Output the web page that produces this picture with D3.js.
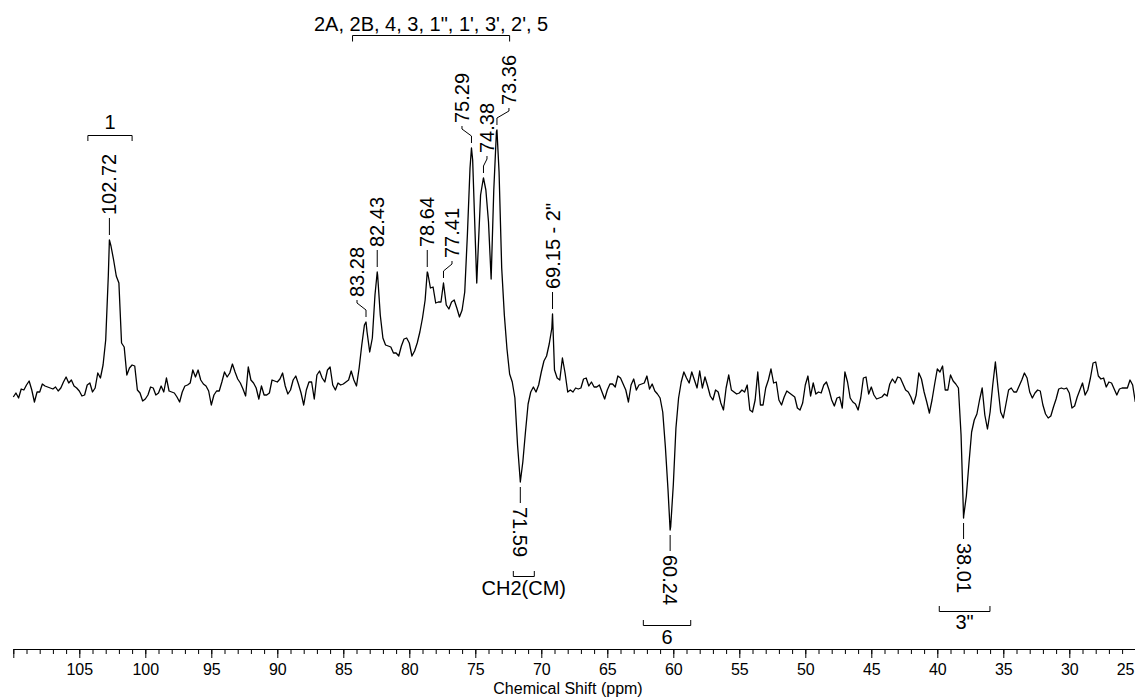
<!DOCTYPE html>
<html>
<head>
<meta charset="utf-8">
<script src="https://cdn.jsdelivr.net/npm/d3@7"></script>
<style>
  html, body { margin: 0; padding: 0; background: #fff; }
  svg { display: block; font-family: "Liberation Sans", Arial, Helvetica, sans-serif; }
</style>
</head>
<body>
<svg id="chart" width="1135" height="697"></svg>
<script>
// 13C DEPT-135 trace, sampled every 0.2 ppm from 110.0 ppm down to 25.0 ppm (arbitrary units)
const gridStart = 110.0;
const gridStep = 0.2;
const intensity = [
  -14, -10, -15, -6, -7, -2, 2, -7, -19, -9,
  -9, -1, -3, -4, -5, -6, -4, -8, -5, 1,
  6, 0, 3, -3, -5, -8, -13, -12, -2, 0,
  -9, -5, 10, 5, 18, 43, 108, 137, 123, 107,
  100, 40, 36, 8, 15, 18, 17, -7, -10, -18,
  -16, -12, -4, -5, -12, -10, -3, -9, 5, -8,
  -9, -10, -14, -19, -9, -3, -2, 0, 13, 6,
  13, 3, -1, -3, -8, -22, -12, -8, -8, 1,
  11, 6, 10, 19, 11, 4, 0, -6, -13, 16,
  3, 0, -5, -16, -3, -12, -12, -10, 3, 2,
  1, 4, 10, -3, -11, -7, 3, 7, -1, -10,
  -22, -7, 1, 1, -16, 8, 12, 5, 1, 13,
  16, -2, -7, 0, -2, -1, 1, 3, 12, 3,
  -3, 15, 38, 58, 51, 31, 45, 88, 108, 68,
  45, 38, 37, 36, 30, 30, 27, 37, 44, 45,
  40, 27, 32, 40, 51, 65, 83, 110, 95, 96,
  80, 81, 81, 99, 78, 74, 81, 83, 75, 66,
  73, 91, 148, 215, 223, 143, 128, 188, 204, 193,
  161, 104, 193, 251, 211, 115, 68, 34, 9, 1,
  -15, -62, -97, -79, -49, -21, -9, -4, -9, -2,
  11, 22, 27, 39, 55, 13, 5, 3, 25, 10,
  -9, -7, -9, -5, -6, -5, 4, 5, -3, 1,
  -4, -4, -2, -9, -16, -7, -1, -1, -4, 7,
  5, -1, -7, -19, -2, 4, -7, -2, -1, 0,
  7, -6, -1, -8, -11, -15, -29, -64, -107, -144,
  -102, -45, -15, 1, 11, 5, 0, 11, 3, -5,
  12, -5, 6, -3, -13, -17, -7, -9, -20, -27,
  -5, 8, -7, -9, -11, -10, -7, -9, -2, -27,
  -29, -17, 11, -22, -22, -5, 3, 14, 0, 1,
  -17, -22, -14, -8, -10, -12, -14, -25, -27, -20,
  -2, 7, -13, 0, -11, -9, -10, -2, 1, -7,
  -17, -23, -15, -14, -25, 11, 1, -15, -19, -21,
  -27, -15, 5, 6, -11, -4, -12, -16, -15, -14,
  -11, -13, -1, 4, 0, 6, 5, -1, -7, -9,
  -14, -21, -12, 10, 4, -9, -19, -30, -17, -1,
  14, 11, 17, -7, -7, 8, 2, -1, -5, -52,
  -133, -113, -80, -49, -37, -31, -17, -5, -32, -46,
  -29, -2, 21, -5, -29, -35, -21, -7, -5, -9,
  -9, -3, 3, 10, 5, -9, -15, -10, -7, -8,
  -22, -31, -35, -33, -24, -16, -6, -5, -6, -5,
  -10, -25, -23, -14, -7, 0, -12, -7, 5, 20,
  21, 7, 4, 5, -4, 1, 0, -6, -12, -6,
  -5, -5, -5, 3, -2, -19
];

// Picked peaks (ppm) and their heights (a.u.); negative = inverted CH2 signals
const peakShifts  = [102.72, 83.28, 82.43, 78.64, 77.41, 75.29, 74.38, 73.36, 71.59, 69.15, 60.24, 38.01];
const peakHeights = [143, 61, 111, 111, 100, 235, 205, 253, -99, 69, -147, -135];
const peakNotes   = { "69.15": " - 2\"" };

// Narrow valley between the 75.29 and 74.38 lines
const valleyShifts  = [74.89];
const valleyHeights = [100];

// Assignment groups (ppm ranges)
const groupLabels = ["1", "2A, 2B, 4, 3, 1\", 1', 3', 2', 5", "CH2(CM)", "6", "3\""];
const groupFrom   = [104.35, 84.3, 72.12, 62.27, 39.85];
const groupTo     = [101.0, 72.4, 70.53, 58.68, 36.01];

// Axis ticks
const majorTicks = d3.range(110, 24.5, -5);
const minorTicks = d3.range(110, 24.5, -1);

// ---------------------------------------------------------------
const svg = d3.select("#chart");
const x = d3.scaleLinear().domain([110, 25]).range([13.3, 1135.3]);
const y = d3.scaleLinear().domain([0, 100]).range([383, 283]);

// Spectrum trace
const spectrum = intensity.map((v, i) => ({ ppm: gridStart - gridStep * i, v }))
  .concat(peakShifts.map((p, i) => ({ ppm: p, v: peakHeights[i] })))
  .concat(valleyShifts.map((p, i) => ({ ppm: p, v: valleyHeights[i] })))
  .sort((a, b) => b.ppm - a.ppm);

svg.append("path")
  .datum(spectrum)
  .attr("fill", "none")
  .attr("stroke", "#000")
  .attr("stroke-width", 1.3)
  .attr("stroke-linejoin", "round")
  .attr("d", d3.line().x(d => x(d.ppm)).y(d => y(d.v)));

// Peak labels with leader lines
const labelShift = { "83.28": -9, "77.41": 8.5, "75.29": -9.5, "74.38": 3.5, "73.36": 12 };
const labels = svg.append("g").attr("font-size", 20).attr("fill", "#000");
peakShifts.forEach((p, i) => {
  const key = p.toFixed(2);
  const px = x(p);
  const tip = y(peakHeights[i]);
  const lx = px + (labelShift[key] || 0);
  const txt = key + (peakNotes[key] || "");
  if (peakHeights[i] > 0) {
    labels.append("path")
      .attr("fill", "none").attr("stroke", "#000").attr("stroke-width", 1)
      .attr("d", `M${px},${tip - 5}L${px},${tip - 12}L${lx},${tip - 19}L${lx},${tip - 22}`);
    labels.append("text")
      .attr("transform", `translate(${lx},${tip - 25}) rotate(-90)`)
      .attr("dy", "0.35em")
      .attr("text-anchor", "start")
      .text(txt);
  } else {
    labels.append("path")
      .attr("fill", "none").attr("stroke", "#000").attr("stroke-width", 1)
      .attr("d", `M${px},${tip + 5}L${lx},${tip + 21}`);
    labels.append("text")
      .attr("transform", `translate(${lx},${tip + 25}) rotate(90)`)
      .attr("dy", "0.35em")
      .attr("text-anchor", "start")
      .text(txt);
  }
});

// Assignment brackets
const bracketLayout = [
  { lineY: 135.5, tick: 5.5, textY: 129 },
  { lineY: 35.5, tick: 6, textY: 31 },
  { lineY: 576.5, tick: -5.5, textY: 595 },
  { lineY: 625.5, tick: -5.5, textY: 644 },
  { lineY: 611.5, tick: -5.5, textY: 629 }
];
const groups = svg.append("g").attr("font-size", 20).attr("fill", "#000");
groupLabels.forEach((lab, i) => {
  const L = bracketLayout[i];
  const x1 = x(groupFrom[i]), x2 = x(groupTo[i]);
  groups.append("path")
    .attr("fill", "none").attr("stroke", "#000").attr("stroke-width", 1)
    .attr("d", `M${x1},${L.lineY + L.tick}L${x1},${L.lineY}L${x2},${L.lineY}L${x2},${L.lineY + L.tick}`);
  groups.append("text")
    .attr("x", (x1 + x2) / 2)
    .attr("y", L.textY)
    .attr("text-anchor", "middle")
    .text(lab);
});

// Chemical shift axis
const axisY = 649;
const minorAxis = svg.append("g")
  .attr("transform", `translate(0,${axisY})`)
  .call(d3.axisBottom(x).tickValues(minorTicks).tickSize(5).tickSizeOuter(0).tickFormat(""));
minorAxis.select(".domain").remove();

const majorAxis = svg.append("g")
  .attr("transform", `translate(0,${axisY})`)
  .call(d3.axisBottom(x).tickValues(majorTicks).tickSize(9).tickSizeOuter(0).tickPadding(5.6)
    .tickFormat(d => d === 110 ? "" : d));
majorAxis.attr("font-size", 16).attr("font-family", null);
svg.selectAll(".tick line").attr("stroke", "#000");
majorAxis.select(".domain").attr("stroke", "#000");
majorAxis.selectAll(".tick text").attr("fill", "#000")
  .filter(d => d === 25).attr("text-anchor", "end").attr("x", -1.3);

svg.append("text")
  .attr("x", 568)
  .attr("y", 694)
  .attr("text-anchor", "middle")
  .attr("font-size", 16)
  .attr("fill", "#000")
  .text("Chemical Shift (ppm)");
</script>
</body>
</html>
